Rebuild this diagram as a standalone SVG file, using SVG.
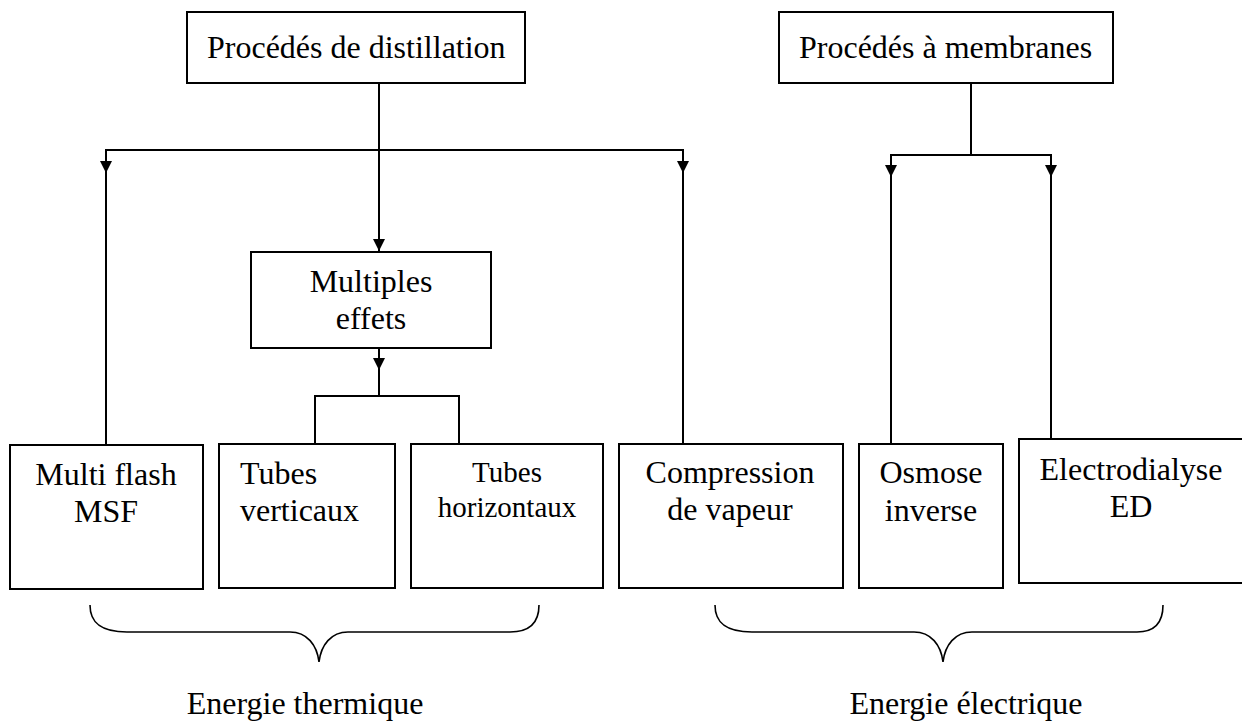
<svg xmlns="http://www.w3.org/2000/svg" width="1242" height="722" viewBox="0 0 1242 722">
<style>
.box{fill:#fff;stroke:#000;stroke-width:2}
.ln{fill:none;stroke:#000;stroke-width:2}
.br{fill:none;stroke:#000;stroke-width:1.6}
text{font-family:"Liberation Serif","Times New Roman",serif;font-size:32px;fill:#000}
.c{text-anchor:middle}
</style>
<defs>
<marker id="ah" markerWidth="12" markerHeight="13" refX="12" refY="6" orient="auto" markerUnits="userSpaceOnUse">
<path d="M0,0 L12,6 L0,12 Z" fill="#000"/>
</marker>
</defs>
<g id="connectors">
<path class="ln" d="M379,83 V251" marker-end="url(#ah)"/>
<path class="ln" d="M379,150 H106 V173" marker-end="url(#ah)"/>
<line class="ln" x1="106" y1="172" x2="106" y2="445"/>
<path class="ln" d="M379,150 H683 V173" marker-end="url(#ah)"/>
<line class="ln" x1="683" y1="172" x2="683" y2="444"/>
<path class="ln" d="M379,348 V370" marker-end="url(#ah)"/>
<path class="ln" d="M379,369 V396 M315,444 V396 H459 V444"/>
<path class="ln" d="M971,83 V155 H891 V177" marker-end="url(#ah)"/>
<path class="ln" d="M971,155 H1051 V177" marker-end="url(#ah)"/>
<line class="ln" x1="891" y1="176" x2="891" y2="444"/>
<line class="ln" x1="1051" y1="176" x2="1051" y2="439"/>
</g>
<g id="n-distillation">
<rect class="box" x="187" y="12" width="338" height="71"/>
<text x="207" y="58">Procédés de distillation</text>
</g>
<g id="n-membranes">
<rect class="box" x="779" y="12" width="334" height="71"/>
<text x="799" y="58">Procédés à membranes</text>
</g>
<g id="n-multiples">
<rect class="box" x="251" y="252" width="240" height="96"/>
<text class="c" x="371" y="292">Multiples</text>
<text class="c" x="371" y="329">effets</text>
</g>
<g id="n-msf">
<rect class="box" x="10" y="445" width="193" height="144"/>
<text class="c" x="106" y="485">Multi flash</text>
<text class="c" x="106" y="522">MSF</text>
</g>
<g id="n-tv">
<rect class="box" x="219" y="444" width="176" height="144"/>
<text x="240" y="484">Tubes</text>
<text x="240" y="521">verticaux</text>
</g>
<g id="n-th">
<rect class="box" x="411" y="444" width="192" height="144"/>
<text class="c" x="507" y="482" style="font-size:29px">Tubes</text>
<text class="c" x="507" y="517" style="font-size:29px">horizontaux</text>
</g>
<g id="n-comp">
<rect class="box" x="619" y="444" width="224" height="144"/>
<text class="c" x="730" y="483">Compression</text>
<text class="c" x="730" y="520">de vapeur</text>
</g>
<g id="n-osmose">
<rect class="box" x="859" y="444" width="144" height="144"/>
<text class="c" x="931" y="483">Osmose</text>
<text class="c" x="931" y="521">inverse</text>
</g>
<g id="n-ed">
<rect class="box" x="1019" y="439" width="230" height="144"/>
<text class="c" x="1131" y="480">Electrodialyse</text>
<text class="c" x="1131" y="517">ED</text>
</g>
<g id="braces">
<path class="br" d="M90,605 C90,622 100,632 127,632 L290,632 C307,632 317,645 319,662 C321,645 331,632 348,632 L510,632 C530,632 539,622 539,605"/>
<path class="br" d="M715,605 C715,622 725,632 752,632 L914,632 C931,632 941,645 943,662 C945,645 955,632 972,632 L1137,632 C1155,632 1163,622 1163,605"/>
</g>
<text class="c" x="305" y="714">Energie thermique</text>
<text class="c" x="966" y="714">Energie électrique</text>
</svg>
